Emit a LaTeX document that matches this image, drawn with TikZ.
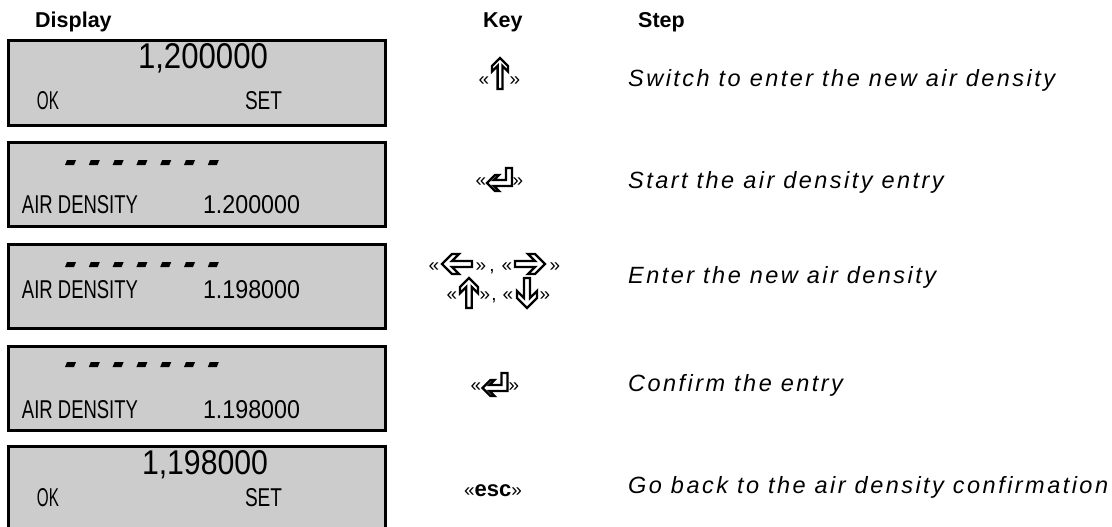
\documentclass[tikz,border=0pt]{standalone}
\usepackage{fontspec}
\setmainfont{Liberation Sans}
\newfontfamily\stepfont[LetterSpace=10.5]{Liberation Sans}
\newfontfamily\lcdfont{Liberation Sans}
\definecolor{lcdgray}{RGB}{204,204,204}
\newcommand{\lcd}[3]{\resizebox{#1pt}{#2pt}{\lcdfont #3}}
\newcommand{\keyarrow}[4]{%
  \begin{scope}[shift={#1}, rotate=#2]
    \draw[keyline] ({-#3/2},{0.3*#4}) -- ({#3/2-#4},{0.3*#4}) -- ({#3/2-1.7*#4},{#4})
      -- ({#3/2-#4},{#4}) -- ({#3/2},0) -- ({#3/2-#4},{-#4}) -- ({#3/2-1.7*#4},{-#4})
      -- ({#3/2-#4},{-0.3*#4}) -- ({-#3/2},{-0.3*#4}) -- cycle;
  \end{scope}}
\newcommand{\enterkey}[1]{%
  \begin{scope}[shift={#1}]
    \draw[keyline] (-12.5,4) -- (-4.5,-4) -- (-0.5,-4) -- (-5.5,1) -- (6.5,1) -- (6.5,-11)
      -- (12.5,-11) -- (12.5,7) -- (-5.5,7) -- (-0.5,12) -- (-4.5,12) -- cycle;
  \end{scope}}
\newcommand{\dashrow}[1]{%
  \foreach \i in {0,...,6} {\fill ({65+23.8*\i},#1) -- ++(9,0) -- ++(2,-5) -- ++(-9,0) -- cycle;}}
\tikzset{
  disp/.style={draw=black, line width=3pt, fill=lcdgray, anchor=north west,
    minimum width=377pt, minimum height=84pt, inner sep=0pt},
  lcdtxt/.style={anchor=base west, inner sep=0pt, outer sep=0pt},
  head/.style={anchor=base west, inner sep=0pt, font=\fontsize{21.5}{25}\selectfont\bfseries},
  steptxt/.style={anchor=base west, inner sep=0pt, font=\stepfont\fontsize{23.5}{28}\selectfont\itshape},
  guil/.style={anchor=base, inner sep=0pt, font=\fontsize{19}{22}\selectfont},
  keyline/.style={draw=black, line width=2.3pt, line join=miter},
}
\begin{document}
\begin{tikzpicture}[x=1pt,y=-1pt]
\useasboundingbox (0,0) rectangle (1112,527);
% headers
\node[head] (hdisp) at (35,28) {Display};
\node[head] (hkey) at (483,28) {Key};
\node[head] (hstep) at (638,28) {Step};
% display boxes
\node[disp] (d1) at (6.5,39.5) {};
\node[disp] (d2) at (6.5,140.5) {};
\node[disp] (d3) at (6.5,242.5) {};
\node[disp] (d4) at (6.5,344.5) {};
\node[disp] (d5) at (6.5,444.5) {};
% box 1
\node[lcdtxt] (t1a) at (138,68) {\lcd{130}{25}{1,200000}};
\node[lcdtxt] (t1b) at (37,110) {\lcd{22}{18}{OK}};
\node[lcdtxt] (t1c) at (245,110) {\lcd{37}{18}{SET}};
% box 2
\dashrow{165}
\node[lcdtxt] (t2a) at (22,213) {\lcd{116}{18}{AIR DENSITY}};
\node[lcdtxt] (t2b) at (203,213) {\lcd{97}{18}{1.200000}};
% box 3
\dashrow{267}
\node[lcdtxt] (t3a) at (22,298) {\lcd{116}{18}{AIR DENSITY}};
\node[lcdtxt] (t3b) at (203,298) {\lcd{97}{18}{1.198000}};
% box 4
\dashrow{367}
\node[lcdtxt] (t4a) at (22,418) {\lcd{116}{18}{AIR DENSITY}};
\node[lcdtxt] (t4b) at (203,418) {\lcd{97}{18}{1.198000}};
% box 5
\node[lcdtxt] (t5a) at (142,474) {\lcd{126}{24}{1,198000}};
\node[lcdtxt] (t5b) at (37,506) {\lcd{22}{18}{OK}};
\node[lcdtxt] (t5c) at (245,506) {\lcd{37}{18}{SET}};
% keys row 1
\node[guil] (k1a) at (484,85) {«};
\keyarrow{(500,73.5)}{90}{31}{8}
\node[guil] (k1b) at (515,85) {»};
% keys row 2
\node[guil] (k2a) at (481,186) {«};
\enterkey{(499.5,179)}
\node[guil] (k2b) at (518,186) {»};
% keys row 3 line 1
\node[guil] (k3a) at (434,271) {«};
\keyarrow{(457,264)}{180}{30}{10}
\node[guil] (k3b) at (481,271) {»};
\node[guil] (k3c) at (492,271) {,};
\node[guil] (k3d) at (507,271) {«};
\keyarrow{(530,264)}{0}{30}{10}
\node[guil] (k3e) at (555,271) {»};
% keys row 3 line 2
\node[guil] (k3f) at (452,300) {«};
\keyarrow{(469,293)}{90}{30}{9}
\node[guil] (k3g) at (485,300) {»};
\node[guil] (k3h) at (494,300) {,};
\node[guil] (k3i) at (508,300) {«};
\keyarrow{(527,293)}{-90}{30}{10}
\node[guil] (k3j) at (545,300) {»};
% keys row 4
\node[guil] (k4a) at (476,391) {«};
\enterkey{(495,384)}
\node[guil] (k4b) at (514,391) {»};
% keys row 5
\node[guil] (k5) at (493,496) {«\fontsize{22}{26}\selectfont\textbf{esc}\fontsize{19}{22}\selectfont»};
% steps
\node[steptxt] (s1) at (628,87) {Switch to enter the new air density};
\node[steptxt] (s2) at (628,188) {Start the air density entry};
\node[steptxt] (s3) at (628,283) {Enter the new air density};
\node[steptxt] (s4) at (628,391) {Confirm the entry};
\node[steptxt] (s5) at (628,493) {Go back to the air density confirmation};
\end{tikzpicture}
\end{document}
